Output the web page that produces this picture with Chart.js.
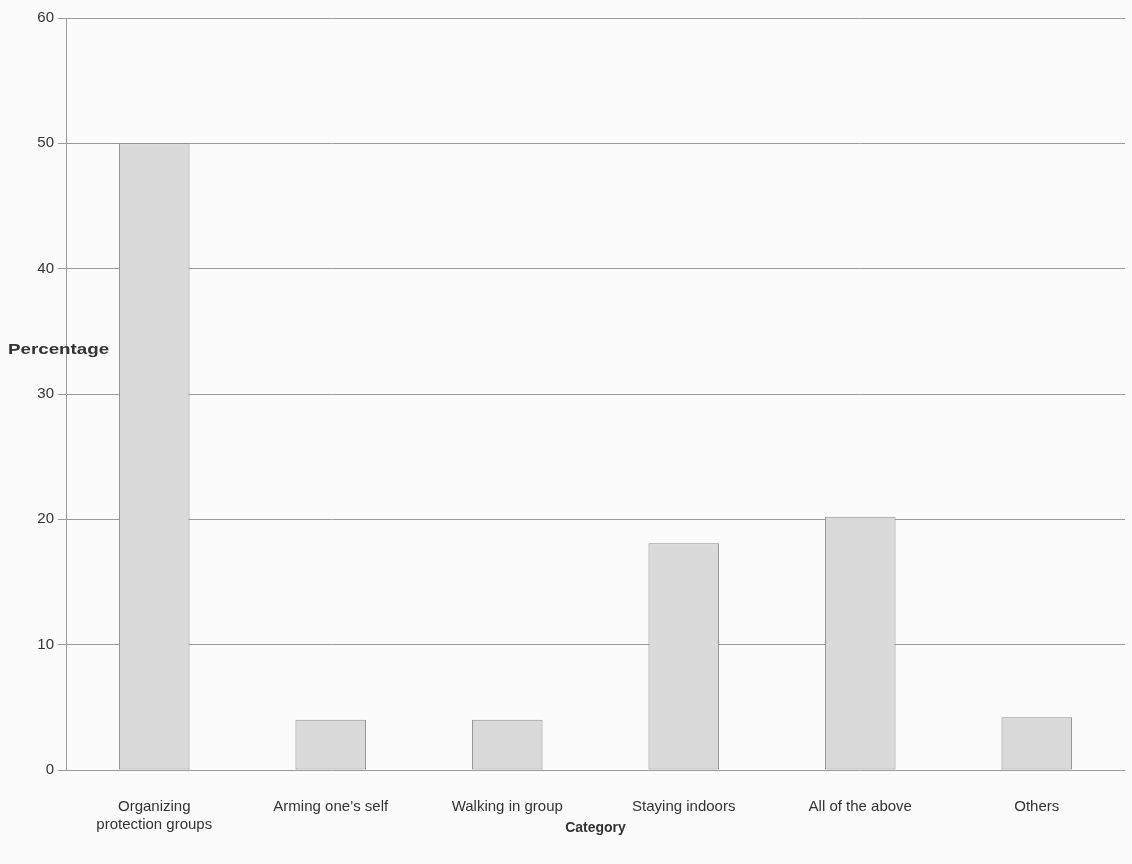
<!DOCTYPE html>
<html>
<head>
<meta charset="utf-8">
<script src="https://cdn.jsdelivr.net/npm/chart.js@4.4.0/dist/chart.umd.min.js"></script>
<style>
  body { margin: 0; background: #fbfbfb; }
  #wrap { width: 1132px; height: 864px; position: relative; }
</style>
</head>
<body>
<div id="wrap"><canvas id="chart"></canvas></div>
<script>
// chart data
const categories = [
    ['Organizing', 'protection groups'],
    "Arming one\u2019s self",
    'Walking in group',
    'Staying indoors',
    'All of the above',
    'Others'
];
const percentages = [50, 4, 4, 18.1, 20.2, 4.2];
const yTicks = [0, 10, 20, 30, 40, 50, 60];

const FONT = '"Liberation Sans", Arial, sans-serif';

// axis titles drawn by hand: y title is horizontal, x title sits close to the labels
const titlePlugin = {
    id: 'titles',
    afterDraw(chart) {
        const ctx = chart.ctx;
        const area = chart.chartArea;
        ctx.save();
        ctx.fillStyle = '#333';
        ctx.textBaseline = 'middle';
        ctx.font = 'bold 15px ' + FONT;
        // Percentage looks stretched in the original
        ctx.save();
        ctx.translate(8, 350);
        ctx.scale(1.25, 1);
        ctx.textAlign = 'left';
        ctx.fillText('Percentage', 0, 0);
        ctx.restore();
        ctx.font = 'bold 14px ' + FONT;
        ctx.textAlign = 'center';
        ctx.fillText('Category', (area.left + area.right) / 2, 828);
        ctx.restore();
    }
};

const ctx = document.getElementById('chart').getContext('2d');
const chart = new Chart(ctx, {
    type: 'bar',
    data: {
        labels: categories,
        datasets: [{
            data: percentages,
            backgroundColor: '#dadada',
            borderColor: '#8e8e8e',
            borderWidth: 1,
            borderSkipped: false,
            barPercentage: 0.4,
            categoryPercentage: 1
        }]
    },
    options: {
        responsive: true,
        maintainAspectRatio: false,
        animation: false,
        layout: { padding: { top: 18, right: 7, left: 0, bottom: 32 } },
        plugins: {
            legend: { display: false },
            tooltip: { enabled: false }
        },
        scales: {
            x: {
                clip: false,
                grid: { display: false },
                border: { display: false },
                ticks: {
                    color: '#333',
                    font: { family: FONT, size: 15 },
                    maxRotation: 0,
                    padding: 20
                },
                afterFit(axis) { axis.height = 62; }
            },
            y: {
                min: 0,
                max: 60,
                afterBuildTicks(axis) {
                    axis.ticks = yTicks.map(v => ({ value: v }));
                },
                grid: { color: '#9a9a9a', lineWidth: 1, tickLength: 8 },
                border: { display: true, color: '#9a9a9a' },
                ticks: {
                    color: '#333',
                    font: { family: FONT, size: 15 },
                    padding: 4
                },
                afterFit(axis) { axis.width = 66; }
            }
        }
    },
    plugins: [titlePlugin]
});
</script>
</body>
</html>
